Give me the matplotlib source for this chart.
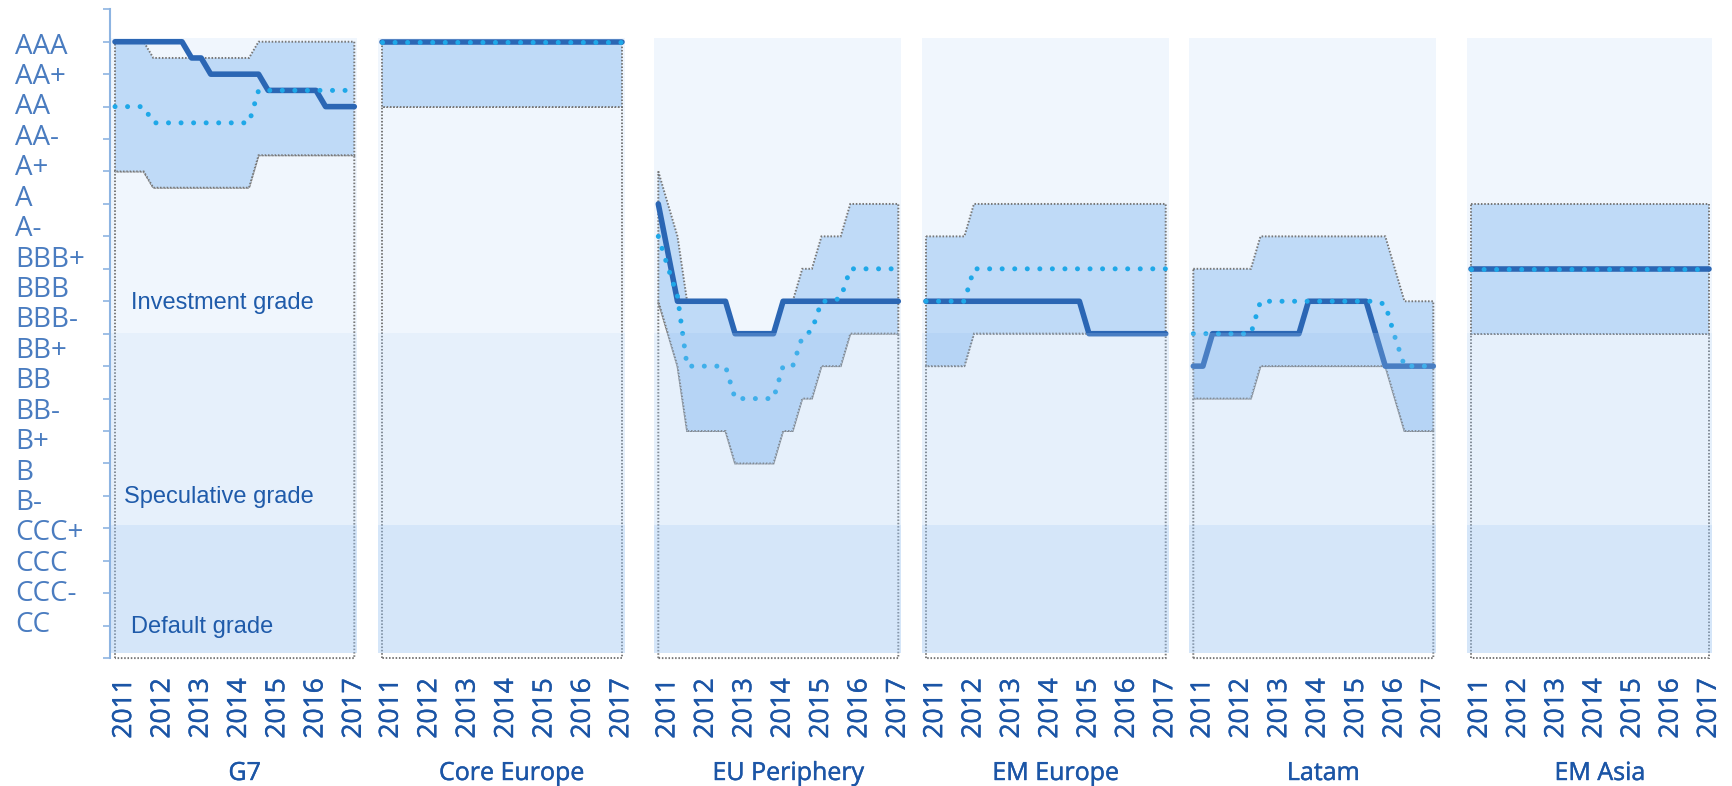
import matplotlib
matplotlib.use('Agg')
import matplotlib.pyplot as plt
import matplotlib.patheffects as pe

plt.rcParams['font.family'] = 'Open Sans'

ratings = ['AAA', 'AA+', 'AA', 'AA-', 'A+', 'A', 'A-', 'BBB+', 'BBB', 'BBB-',
           'BB+', 'BB', 'BB-', 'B+', 'B', 'B-', 'CCC+', 'CCC', 'CCC-', 'CC']
years = ['2011', '2012', '2013', '2014', '2015', '2016', '2017']
year_pos = [1, 5, 9, 13, 17, 21, 25]   # quarterly points, first one is 2010Q4
panels = ['G7', 'Core Europe', 'EU Periphery', 'EM Europe', 'Latam', 'EM Asia']

# values are notches below AAA, one per quarter
g7_median = [0, 0, 0, 0, 0, 0, 0, 0, 0.5, 0.5, 1, 1, 1, 1, 1, 1, 1.5, 1.5, 1.5, 1.5, 1.5, 1.5, 2, 2, 2, 2]
g7_mean = [2, 2, 2, 2, 2.5, 2.5, 2.5, 2.5, 2.5, 2.5, 2.5, 2.5, 2.5, 2.5, 2.5, 1.5, 1.5, 1.5, 1.5, 1.5, 1.5, 1.5, 1.5, 1.5, 1.5, 1.5]
g7_high = [0, 0, 0, 0, 0.5, 0.5, 0.5, 0.5, 0.5, 0.5, 0.5, 0.5, 0.5, 0.5, 0.5, 0, 0, 0, 0, 0, 0, 0, 0, 0, 0, 0]
g7_low = [4, 4, 4, 4, 4.5, 4.5, 4.5, 4.5, 4.5, 4.5, 4.5, 4.5, 4.5, 4.5, 4.5, 3.5, 3.5, 3.5, 3.5, 3.5, 3.5, 3.5, 3.5, 3.5, 3.5, 3.5]

core_median = [0, 0, 0, 0, 0, 0, 0, 0, 0, 0, 0, 0, 0, 0, 0, 0, 0, 0, 0, 0, 0, 0, 0, 0, 0, 0]
core_mean = [0, 0, 0, 0, 0, 0, 0, 0, 0, 0, 0, 0, 0, 0, 0, 0, 0, 0, 0, 0, 0, 0, 0, 0, 0, 0]
core_high = [0, 0, 0, 0, 0, 0, 0, 0, 0, 0, 0, 0, 0, 0, 0, 0, 0, 0, 0, 0, 0, 0, 0, 0, 0, 0]
core_low = [2, 2, 2, 2, 2, 2, 2, 2, 2, 2, 2, 2, 2, 2, 2, 2, 2, 2, 2, 2, 2, 2, 2, 2, 2, 2]

eup_median = [5, 6.5, 8, 8, 8, 8, 8, 8, 9, 9, 9, 9, 9, 8, 8, 8, 8, 8, 8, 8, 8, 8, 8, 8, 8, 8]
eup_mean = [6, 6.95, 7.85, 10, 10, 10, 10, 10, 11, 11, 11, 11, 11, 10, 10, 9.1, 8.9, 8, 8, 7.9, 7, 7, 7, 7, 7, 7]
eup_high = [4, 5, 6, 8, 8, 8, 8, 8, 9, 9, 9, 9, 9, 8, 8, 7, 7, 6, 6, 6, 5, 5, 5, 5, 5, 5]
eup_low = [8, 9, 10, 12, 12, 12, 12, 12, 13, 13, 13, 13, 13, 12, 12, 11, 11, 10, 10, 10, 9, 9, 9, 9, 9, 9]

eme_median = [8, 8, 8, 8, 8, 8, 8, 8, 8, 8, 8, 8, 8, 8, 8, 8, 8, 9, 9, 9, 9, 9, 9, 9, 9, 9]
eme_mean = [8, 8, 8, 8, 8, 7, 7, 7, 7, 7, 7, 7, 7, 7, 7, 7, 7, 7, 7, 7, 7, 7, 7, 7, 7, 7]
eme_high = [6, 6, 6, 6, 6, 5, 5, 5, 5, 5, 5, 5, 5, 5, 5, 5, 5, 5, 5, 5, 5, 5, 5, 5, 5, 5]
eme_low = [10, 10, 10, 10, 10, 9, 9, 9, 9, 9, 9, 9, 9, 9, 9, 9, 9, 9, 9, 9, 9, 9, 9, 9, 9, 9]

latam_median = [10, 10, 9, 9, 9, 9, 9, 9, 9, 9, 9, 9, 8, 8, 8, 8, 8, 8, 8, 9, 10, 10, 10, 10, 10, 10]
latam_mean = [9, 9, 9, 9, 9, 9, 9, 8, 8, 8, 8, 8, 8, 8, 8, 8, 8, 8, 8, 8, 8.1, 9.1, 10, 10, 10, 10]
latam_high = [7, 7, 7, 7, 7, 7, 7, 6, 6, 6, 6, 6, 6, 6, 6, 6, 6, 6, 6, 6, 6, 7, 8, 8, 8, 8]
latam_low = [11, 11, 11, 11, 11, 11, 11, 10, 10, 10, 10, 10, 10, 10, 10, 10, 10, 10, 10, 10, 10, 11, 12, 12, 12, 12]

asia_median = [7, 7, 7, 7, 7, 7, 7, 7, 7, 7, 7, 7, 7, 7, 7, 7, 7, 7, 7, 7, 7, 7, 7, 7, 7, 7]
asia_mean = [7, 7, 7, 7, 7, 7, 7, 7, 7, 7, 7, 7, 7, 7, 7, 7, 7, 7, 7, 7, 7, 7, 7, 7, 7, 7]
asia_high = [5, 5, 5, 5, 5, 5, 5, 5, 5, 5, 5, 5, 5, 5, 5, 5, 5, 5, 5, 5, 5, 5, 5, 5, 5, 5]
asia_low = [9, 9, 9, 9, 9, 9, 9, 9, 9, 9, 9, 9, 9, 9, 9, 9, 9, 9, 9, 9, 9, 9, 9, 9, 9, 9]

series = [
    (g7_median, g7_mean, g7_high, g7_low),
    (core_median, core_mean, core_high, core_low),
    (eup_median, eup_mean, eup_high, eup_low),
    (eme_median, eme_mean, eme_high, eme_low),
    (latam_median, latam_mean, latam_high, latam_low),
    (asia_median, asia_mean, asia_high, asia_low),
]

# pixel extents of each panel's data
edges = [(115, 354.3), (381.7, 621.7), (658.3, 898.3), (926, 1165.7), (1193.3, 1433.3), (1470.7, 1709.3)]

W, H = 1732, 786
fig = plt.figure(figsize=(W / 100, H / 100), dpi=100)
y_top, y_bot = 9.3, 658.1

dark = '#2B66B4'
light = '#1FA8E8'
fill = '#BFDAF7'
grey = '#777777'
text_blue = '#1B55A6'
thicker = [pe.withStroke(linewidth=0.3, foreground=text_blue)]

for n, name in enumerate(panels):
    L, R = edges[n]
    w = (R - L) / 25
    ax = fig.add_axes([(L - 0.5 * w) / W, (H - y_bot) / H, 26 * w / W, (y_bot - y_top) / H])
    ax.set_xlim(-0.5, 25.5)
    ax.set_ylim(19, -1)
    ax.set_facecolor('none')
    for s in ax.spines.values():
        s.set_visible(False)

    median, mean, high, low = series[n]
    x = list(range(len(median)))

    # grade bands
    ax.fill_between([-0.4, 25.3], -0.1, 8.97, color='#F0F6FD', lw=0, zorder=0)

    # low side area outline (down to the bottom) and the high-low range
    ax.fill([0] + x + [25], [19] + low + [19], facecolor='none', edgecolor=grey,
            lw=1.4, ls=(0, (0.8, 0.9)), zorder=2, clip_on=False)
    ax.fill(x + x[::-1], high + low[::-1], facecolor=fill, edgecolor=grey,
            lw=1.4, ls=(0, (0.8, 0.9)), zorder=2)

    ax.plot(x, median, color=dark, lw=4, solid_capstyle='round',
            solid_joinstyle='round', zorder=4)
    ax.plot(x, mean, color=light, lw=3.6, ls=(0, (0.01, 2.5)),
            dash_capstyle='round', zorder=5)

    # speculative / default bands sit on top, slightly see-through
    ax.fill_between([-0.4, 25.3], 8.97, 14.9, color='#A0C6F0', alpha=0.26, lw=0, zorder=6)
    ax.fill_between([-0.4, 25.3], 14.9, 18.85, color='#9BC4F3', alpha=0.42, lw=0, zorder=6)

    ax.set_xticks(year_pos, years, rotation=90)
    ax.tick_params(axis='x', length=0, pad=14.4, labelsize=19, labelcolor=text_blue)
    for lab in ax.get_xticklabels():
        lab.set_path_effects(thicker)

    if n == 0:
        ax.spines['left'].set_visible(True)
        ax.spines['left'].set_color('#8DB4E2')
        ax.spines['left'].set_linewidth(1.5)
        ax.set_yticks([0.04 + 0.938 * j for j in range(len(ratings))], ratings)
        ax.tick_params(axis='y', which='major', length=0, pad=68.4,
                       labelsize=20, labelcolor='#4A7CC0')
        for lab in ax.get_yticklabels():
            lab.set_ha('left')
        ax.set_yticks(range(-1, 20), minor=True)
        ax.tick_params(axis='y', which='minor', length=5, width=1.2,
                       color='#8DB4E2', direction='out')
        ax.text(1.64, 8.05, 'Investment grade', fontsize=17, color='#1F5BAA',
                family='Liberation Sans', va='center', zorder=8)
        ax.text(0.94, 14.02, 'Speculative grade', fontsize=17, color='#1F5BAA',
                family='Liberation Sans', va='center', zorder=8)
        ax.text(1.64, 18.03, 'Default grade', fontsize=17, color='#1F5BAA',
                family='Liberation Sans', va='center', zorder=8)
    else:
        ax.set_yticks([])

    fig.text(((L + R) / 2 + 10) / W, 6 / H, name, ha='center', va='baseline',
             fontsize=18, color=text_blue, path_effects=thicker)

fig.savefig('out.png', dpi=100)
